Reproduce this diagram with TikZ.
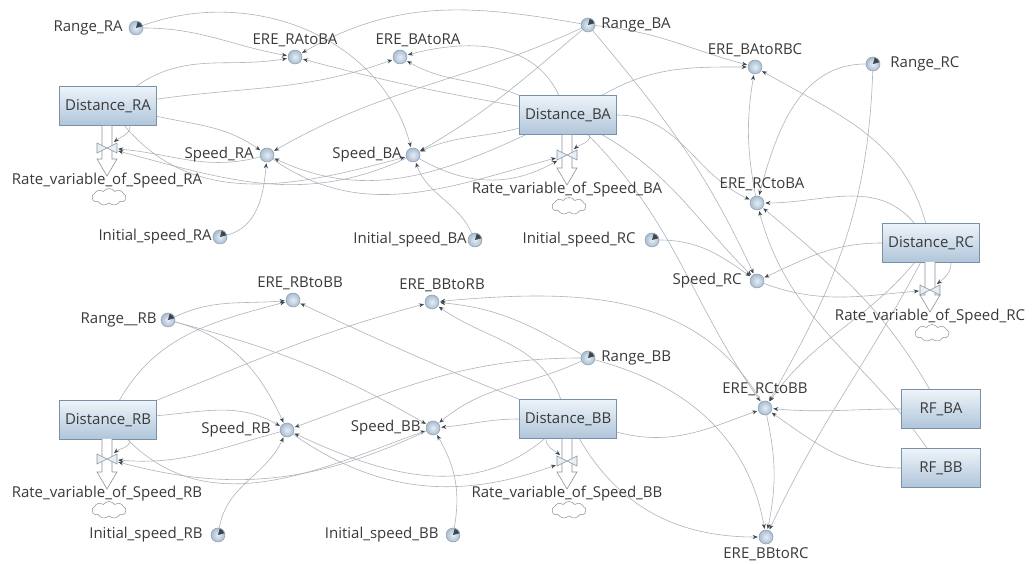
\documentclass[tikz,border=0pt]{standalone}
\usepackage{fontspec}
\setmainfont{Open Sans}
\usetikzlibrary{positioning, arrows.meta, backgrounds, shapes.symbols}
\definecolor{stockTop}{HTML}{EEF4FA}
\definecolor{stockBottom}{HTML}{AFC5DA}
\definecolor{stockBorder}{HTML}{7A90A6}
\definecolor{auxInner}{HTML}{E6EEF6}
\definecolor{auxOuter}{HTML}{A9BDD0}
\definecolor{auxBorder}{HTML}{8A9CAE}
\definecolor{linkGray}{HTML}{ADB4BB}
\definecolor{tipGray}{HTML}{3F464D}
\definecolor{textMain}{HTML}{3A3A3A}
\definecolor{pipeGray}{HTML}{8C939A}
\newcommand{\lblfont}{\fontsize{15}{17}\selectfont}
\tikzset{
  stock/.style={draw=stockBorder, top color=stockTop, bottom color=stockBottom,
    minimum width=97pt, minimum height=39pt, inner sep=0pt,
    font=\lblfont, text=textMain, line width=0.6pt},
  aux/.style={circle, draw=auxBorder, inner color=auxInner, outer color=auxOuter,
    minimum size=14pt, inner sep=0pt, line width=0.5pt},
  constant/.style={aux},
  lbl/.style={font=\lblfont, text=textMain, inner sep=1pt},
  link/.style={draw=linkGray, line width=0.6pt,
    -{Stealth[length=5pt, width=4pt, color=tipGray]}, shorten >=1pt},
  pipe/.style={draw=pipeGray, line width=0.6pt, fill=white},
  valvebox/.style={minimum width=20pt, minimum height=10pt, inner sep=0pt},
  valve/.style={draw=pipeGray, fill=auxInner, line width=0.6pt},
  sink/.style={cloud, cloud puffs=9, cloud puff arc=110, aspect=2, draw=pipeGray,
    minimum width=34pt, minimum height=17pt, inner sep=0pt, line width=0.5pt},
}

\begin{document}
\begin{tikzpicture}[x=1pt, y=1pt, label distance=2pt]
  \useasboundingbox (0,0) rectangle (1032,564);

  % === Stocks ===
  \node[stock] (dRA) at (108,458) {Distance\_RA};
  \node[stock] (dBA) at (568,449) {Distance\_BA};
  \node[stock] (dRC) at (931,321) {Distance\_RC};
  \node[stock] (dRB) at (108,144) {Distance\_RB};
  \node[stock] (dBB) at (568,145) {Distance\_BB};
  \node[stock, minimum width=79pt] (rfBA) at (941,155) {RF\_BA};
  \node[stock, minimum width=79pt] (rfBB) at (941,96) {RF\_BB};

  % === Auxiliaries ===
  \node[aux, label={[lbl]above:ERE\_RAtoBA}] (eRAtoBA) at (295,507) {};
  \node[aux, label={[lbl, xshift=18pt]above:ERE\_BAtoRA}] (eBAtoRA) at (400,507) {};
  \node[aux, label={[lbl]above:ERE\_BAtoRBC}] (eBAtoRBC) at (755,497) {};
  \node[aux, label={[lbl, xshift=5pt, label distance=4pt]above:ERE\_RCtoBA}] (eRCtoBA) at (757,361) {};
  \node[aux, label={[lbl, label distance=5pt]left:Speed\_RA}] (sRA) at (267,409) {};
  \node[aux, label={[lbl, label distance=3pt]left:Speed\_BA}] (sBA) at (413,409) {};
  \node[aux, label={[lbl, label distance=7pt]left:Speed\_RC}] (sRC) at (757,283) {};
  \node[aux, label={[lbl, xshift=7pt]above:ERE\_RBtoBB}] (eRBtoBB) at (293,264) {};
  \node[aux, label={[lbl, xshift=10pt]above:ERE\_BBtoRB}] (eBBtoRB) at (432,262) {};
  \node[aux, label={[lbl, label distance=8pt]left:Speed\_RB}] (sRB) at (287,134) {};
  \node[aux, label={[lbl, label distance=4pt]left:Speed\_BB}] (sBB) at (433,136) {};
  \node[aux, label={[lbl, label distance=4pt]above:ERE\_RCtoBB}] (eRCtoBB) at (765,156) {};
  \node[aux, label={[lbl]below:ERE\_BBtoRC}] (eBBtoRC) at (766,27) {};

  % === Constants ===
  \node[constant, label={[lbl, label distance=5pt]left:Range\_RA}] (cRangeRA) at (136,536) {};
  \node[constant, label={[lbl, label distance=5pt]right:Range\_BA}] (cRangeBA) at (588,539) {};
  \node[constant, label={[lbl, label distance=9pt]right:Range\_RC}] (cRangeRC) at (873,500) {};
  \node[constant, label={[lbl, label distance=0pt]left:Initial\_speed\_RA}] (cInitRA) at (220,327) {};
  \node[constant, label={[lbl, label distance=0pt]left:Initial\_speed\_BA}] (cInitBA) at (475,324) {};
  \node[constant, label={[lbl, label distance=8pt]left:Initial\_speed\_RC}] (cInitRC) at (652,324) {};
  \node[constant, label={[lbl, label distance=3pt]left:Range\_\_RB}] (cRangeRB) at (168,244) {};
  \node[constant, label={[lbl, label distance=5pt]right:Range\_BB}] (cRangeBB) at (588,206) {};
  \node[constant, label={[lbl, label distance=7pt]left:Initial\_speed\_RB}] (cInitRB) at (218,29) {};
  \node[constant, label={[lbl, label distance=6pt]left:Initial\_speed\_BB}] (cInitBB) at (453,29) {};
  \foreach \c in {cRangeRA,cRangeBA,cRangeRC,cInitRA,cInitBA,cInitRC,cRangeRB,cRangeBB,cInitRB,cInitBB}
    \fill[tipGray] (\c.center) -- ++(15:6.5) arc[start angle=15, end angle=75, radius=6.5] -- cycle;

  % === Flows: pipe, valve, sink ===
  \foreach \n/\x/\yt/\dv/\txt in {
      vRA/107/438/22/Rate\_variable\_of\_Speed\_RA,
      vBA/567/429/20/Rate\_variable\_of\_Speed\_BA,
      vRC/930/302/28/Rate\_variable\_of\_Speed\_RC,
      vRB/107/125/20/Rate\_variable\_of\_Speed\_RB,
      vBB/567/125/22/Rate\_variable\_of\_Speed\_BB} {
    \draw[pipe] (\x-5,\yt) -- (\x-5,\yt-33) -- (\x-10,\yt-33) -- (\x,\yt-50)
      -- (\x+10,\yt-33) -- (\x+5,\yt-33) -- (\x+5,\yt);
    \node[valvebox] (\n) at (\x,\yt-\dv) {};
    \draw[valve] (\x-10,\yt-\dv+5) -- (\x-10,\yt-\dv-5) -- (\x+10,\yt-\dv+5) -- (\x+10,\yt-\dv-5) -- cycle;
    \node[sink] (\n-sink) at (\x+2,\yt-71) {};
    \node[lbl] (\n-txt) at (\x,\yt-55) {\txt};
  }

  % === Links (behind everything) ===
  \begin{scope}[on background layer]
    \fill[white] (0,0) rectangle (1032,564);
    % group A
    \draw[link] (cRangeRA) to[out=0, in=170] (eRAtoBA);
    \draw[link] (cRangeRA) to[out=20, in=105] (sBA);
    \draw[link] (dRA) to[out=35, in=190] (eRAtoBA);
    \draw[link] (dRA) to[out=8, in=200] (eBAtoRA);
    \draw[link] (dRA) to[out=-12, in=145] (sRA);
    \draw[link] (dRA) to[out=-50, in=195] (sBA);
    \draw[link] (sRA) to[out=195, in=-5] (vRA);
    \draw[link] ([xshift=22pt]dRA.south) to[out=-90, in=40] (vRA);
    \draw[link] (sBA) to[out=205, in=-15] (vRA);
    \draw[link] (sRA) to[out=-35, in=195] (vBA);
    \draw[link] (sBA) to[out=-30, in=210] (vBA);
    \draw[link] ([xshift=22pt]dBA.south) to[out=-90, in=40] (vBA);
    \draw[link] (cInitRA) to[out=15, in=-95] (sRA);
    \draw[link] (cInitBA) to[out=115, in=-70] (sBA);
    \draw[link] (cRangeBA) to[out=205, in=30] (sRA);
    \draw[link] (cRangeBA) to[out=220, in=30] (sBA);
    \draw[link] (cRangeBA) to[out=170, in=30] (eRAtoBA);
    \draw[link] (dBA) to[out=115, in=15] (eBAtoRA);
    \draw[link] (dBA) to[out=170, in=-15] (eRAtoBA);
    \draw[link] (dBA) to[out=158, in=-30] (eBAtoRA);
    \draw[link] (dBA) to[out=195, in=25] (sBA);
    \draw[link] (dBA) to[out=205, in=-25] (sRA);
    % group A to C
    \draw[link] (cRangeBA) to[out=-5, in=165] (eBAtoRBC);
    \draw[link] (dBA) to[out=30, in=180] (eBAtoRBC);
    \draw[link] (cRangeBA) to[out=-50, in=115] (sRC);
    \draw[link] (dBA) to[out=0, in=155] (eRCtoBA);
    \draw[link] (dBA) to[out=-30, in=135] (sRC);
    \draw[link] (dBA) to[out=-45, in=125] (eRCtoBB);
    \draw[link] (cInitRC) to[out=0, in=145] (sRC);
    \draw[link] (sRC) to[out=-20, in=185] (vRC);
    \draw[link] (dRC) to[out=105, in=-30] (eBAtoRBC);
    \draw[link] (dRC) to[out=130, in=0] (eRCtoBA);
    \draw[link] (dRC) to[out=180, in=25] (sRC);
    \draw[link] (dRC) to[out=-130, in=55] (eRCtoBB);
    \draw[link] (dRC) to[out=-118, in=65] (eBBtoRC);
    \draw[link] ([xshift=20pt]dRC.south) to[out=-90, in=40] (vRC);
    \draw[link] (cRangeRC) to[out=180, in=75] (eRCtoBA);
    \draw[link] (cRangeRC) to[out=-92, in=60] (eRCtoBB);
    \draw[link] (eRCtoBA) to[bend left=10] (eBAtoRBC);
    \draw[link] (rfBA) to[out=120, in=-40] (eRCtoBA);
    \draw[link] (rfBB) to[out=125, in=-75] (eRCtoBA);
    % group B
    \draw[link] (dBB) to[out=-15, in=200] (eRCtoBB);
    \draw[link] (rfBA) to[out=180, in=-5] (eRCtoBB);
    \draw[link] (rfBB) to[out=180, in=-35] (eRCtoBB);
    \draw[link] (eRCtoBB) to[out=120, in=5] (eBBtoRB);
    \draw[link] (cRangeBB) to[out=150, in=-5] (eBBtoRB);
    \draw[link] (dBB) to[out=110, in=-35] (eBBtoRB);
    \draw[link] (dBB) to[out=158, in=-25] (eRBtoBB);
    \draw[link] (dBB) to[out=180, in=5] (sBB);
    \draw[link] (dBB) to[out=-140, in=-25] (sRB);
    \draw[link] (cRangeBB) to[out=205, in=40] (sBB);
    \draw[link] (cRangeBB) to[out=180, in=20] (sRB);
    \draw[link] (cRangeBB) to[out=-15, in=100] (eBBtoRC);
    \draw[link] (dBB) to[out=-60, in=180] (eBBtoRC);
    \draw[link] (eRCtoBB) to[bend left=12] (eBBtoRC);
    \draw[link] (sRB) to[out=195, in=-5] (vRB);
    \draw[link] ([xshift=22pt]dRB.south) to[out=-90, in=40] (vRB);
    \draw[link] (cRangeRB) to[out=25, in=185] (eRBtoBB);
    \draw[link] (cRangeRB) to[out=-15, in=115] (sRB);
    \draw[link] (cRangeRB) to[out=-15, in=150] (sBB);
    \draw[link] (dRB) to[out=60, in=195] (eRBtoBB);
    \draw[link] (dRB) to[out=22, in=195] (eBBtoRB);
    \draw[link] (dRB) to[out=5, in=150] (sRB);
    \draw[link] (dRB) to[out=-45, in=200] (sBB);
    \draw[link] (sBB) to[out=205, in=-15] (vRB);
    \draw[link] (sRB) to[out=-35, in=200] (vBB);
    \draw[link] ([xshift=-22pt]dBB.south) to[out=-90, in=140] (vBB);
    \draw[link] (cInitRB) to[out=80, in=-115] (sRB);
    \draw[link] (cInitBB) to[out=80, in=-60] (sBB);
  \end{scope}

\end{tikzpicture}
\end{document}
